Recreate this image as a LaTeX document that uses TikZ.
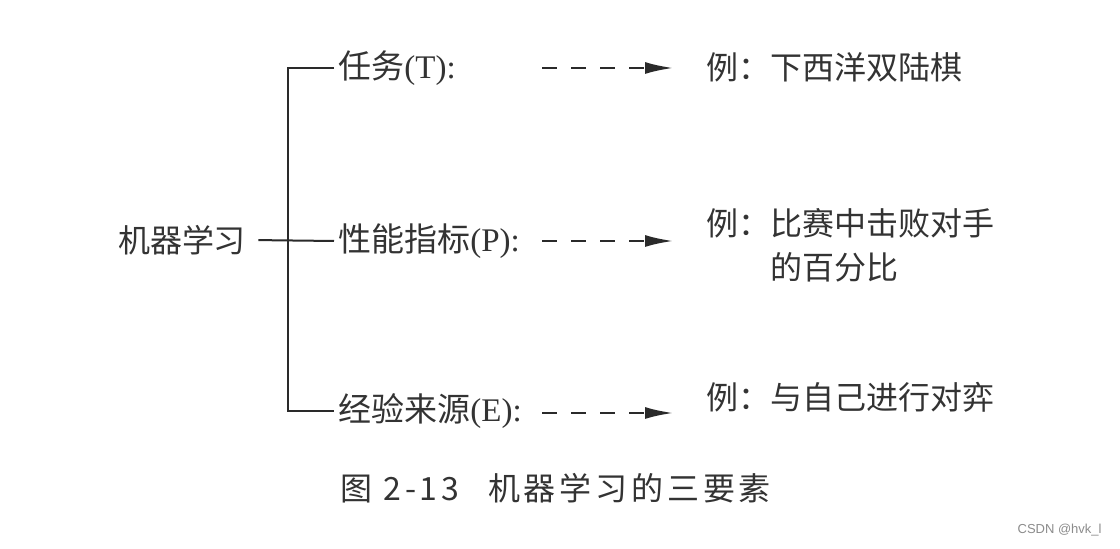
\documentclass[tikz,border=0pt]{standalone}
\usepackage{fontspec}
\setmainfont{Liberation Serif}
\newfontfamily\cjk{Noto Sans CJK SC}
\newfontfamily\cjkcap[LetterSpace=12]{Noto Sans CJK SC}
\newfontfamily\wmfont{Liberation Sans}
\usepackage{xcolor}
\definecolor{mlink}{HTML}{333333}
\definecolor{mlline}{HTML}{2A2A2A}
\definecolor{mlmark}{HTML}{8C8C8C}
\usepackage{tikz}
\usetikzlibrary{arrows.meta,positioning}
\tikzset{
  mlroot/.style ={inner sep=2pt, font=\fontsize{16}{22}\selectfont\cjk, text=mlink},
  mlitem/.style ={anchor=west, inner sep=2pt, font=\fontsize{16.5}{22}\selectfont, text=mlink},
  mlex/.style   ={anchor=west, inner sep=2pt, align=left,
                  font=\fontsize{16}{22}\selectfont\cjk, text=mlink},
  mlcap/.style  ={anchor=west, inner sep=2pt, font=\fontsize{16}{22}\selectfont\cjkcap, text=mlink},
  mlmark/.style ={anchor=east, inner sep=0pt, font=\fontsize{6.5}{8}\selectfont\wmfont, text=mlmark},
  mltree/.style ={draw=mlline, line width=1pt},
  mlarrow/.style={-{Latex[length=14pt,width=6pt]}, draw=mlline, line width=1.1pt,
                  dash pattern=on 7.5pt off 7pt, shorten >=14.5pt},
}

\begin{document}
\begin{tikzpicture}[x=0.5pt, y=-0.5pt]
  \fill[white] (0,0) rectangle (1120,549);
  \useasboundingbox (0,0) rectangle (1120,549);
  % root and the three elements
  \node[mlroot] (ml) at (182,240) {机器学习};
  \node[mlitem] (task) at (334,68)  {{\cjk 任务}(T):};
  \node[mlitem] (perf) at (334,241) {{\cjk 性能指标}(P):};
  \node[mlitem] (src)  at (334,411) {{\cjk 经验来源}(E):};
  \coordinate (trunk) at (288,241);
  \draw[mltree, shorten <=4pt] (ml.east) -- (perf.west);
  \draw[mltree] (task.west) -- (task.west -| trunk) -- (src.west -| trunk) -- (src.west);
  % examples
  \node[mlex] (ex1) at (702,67)  {例：下西洋双陆棋};
  \node[mlex] (ex2) at (702,245) {例：比赛中击败对手\\\phantom{例：}的百分比};
  \node[mlex] (ex3) at (702,397) {例：与自己进行对弈};
  \coordinate (s1) at (542,68);
  \coordinate (s2) at (542,241);
  \coordinate (s3) at (542,413);
  \draw[mlarrow] (s1) -- (s1 -| ex1.west);
  \draw[mlarrow] (s2) -- (s2 -| ex2.west);
  \draw[mlarrow] (s3) -- (s3 -| ex3.west);
  % caption
  \node[mlcap] (cap) at (336,488) {图 2-13\hspace{0.9em}机器学习的三要素};
  \node[mlmark] (wm) at (1102,530) {CSDN @hvk\_l};
\end{tikzpicture}
\end{document}
